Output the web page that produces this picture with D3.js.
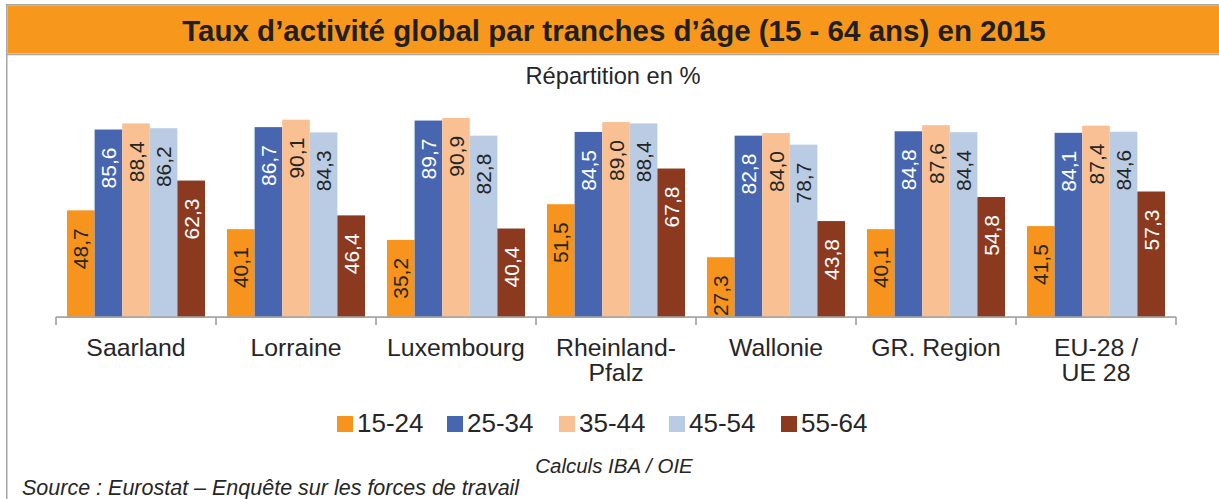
<!DOCTYPE html>
<html>
<head>
<meta charset="utf-8">
<script src="https://cdn.jsdelivr.net/npm/d3@7"></script>
<style>
  body { margin: 0; background: #fff; }
  svg { display: block; font-family: "Liberation Sans", Arial, sans-serif; }
</style>
</head>
<body>
<div id="chart"></div>
<script>
// data
const regions = ["Saarland", "Lorraine", "Luxembourg", "Rheinland-\nPfalz", "Wallonie", "GR. Region", "EU-28 /\nUE 28"];
const ageGroups = ["15-24", "25-34", "35-44", "45-54", "55-64"];
const v15_24 = [48.7, 40.1, 35.2, 51.5, 27.3, 40.1, 41.5];
const v25_34 = [85.6, 86.7, 89.7, 84.5, 82.8, 84.8, 84.1];
const v35_44 = [88.4, 90.1, 90.9, 89.0, 84.0, 87.6, 87.4];
const v45_54 = [86.2, 84.3, 82.8, 88.4, 78.7, 84.4, 84.6];
const v55_64 = [62.3, 46.4, 40.4, 67.8, 43.8, 54.8, 57.3];
const series = [v15_24, v25_34, v35_44, v45_54, v55_64];

const colors = ["#F7941D", "#4766AF", "#F9C193", "#B9CCE4", "#8B391F"];
const labelColors = ["#262626", "#ffffff", "#262626", "#262626", "#ffffff"];

const W = 1219, H = 499;
const svg = d3.select("#chart").append("svg")
    .attr("width", W)
    .attr("height", H);

// frame + header
svg.append("rect")
    .attr("x", 6.75).attr("y", 4.75)
    .attr("width", W + 10).attr("height", H + 10)
    .attr("fill", "none")
    .attr("stroke", "#A6A6A6")
    .attr("stroke-width", 1.5);
svg.append("rect")
    .attr("x", 7.5).attr("y", 5.5)
    .attr("width", W).attr("height", 48)
    .attr("fill", "#F7981D");
svg.append("line")
    .attr("x1", 7).attr("x2", W)
    .attr("y1", 54.5).attr("y2", 54.5)
    .attr("stroke", "#A6A6A6")
    .attr("stroke-width", 1.5);

svg.append("text")
    .attr("x", 614).attr("y", 41)
    .attr("text-anchor", "middle")
    .attr("font-size", "29.5px")
    .attr("font-weight", "bold")
    .attr("fill", "#231F20")
    .text("Taux d’activité global par tranches d’âge (15 - 64 ans) en 2015");

svg.append("text")
    .attr("x", 613).attr("y", 84)
    .attr("text-anchor", "middle")
    .attr("font-size", "23.7px")
    .attr("fill", "#262626")
    .text("Répartition en %");

// scales
const x0 = d3.scaleBand()
    .domain(regions)
    .range([56, 1176])
    .padding(0);
const x1 = d3.scaleBand()
    .domain(ageGroups)
    .range([11, x0.bandwidth() - 11])
    .padding(0);
const y = d3.scaleLinear()
    .domain([0, 100])
    .range([317, 98]);

// bars
const g = svg.append("g");
ageGroups.forEach(function(a, si) {
  const sg = g.append("g");
  sg.selectAll("rect")
    .data(series[si])
    .enter()
    .append("rect")
      .attr("x", (d, i) => x0(regions[i]) + x1(a))
      .attr("y", d => y(d))
      .attr("width", x1.bandwidth())
      .attr("height", d => y(0) - y(d))
      .attr("fill", colors[si]);

  sg.selectAll("text")
    .data(series[si])
    .enter()
    .append("text")
      .attr("transform", (d, i) => `translate(${x0(regions[i]) + x1(a) + x1.bandwidth() / 2}, ${y(d) + 18}) rotate(-90)`)
      .attr("text-anchor", "end")
      .attr("dy", "0.36em")
      .attr("font-size", "21px")
      .attr("fill", labelColors[si])
      .text(d => d.toFixed(1).replace(".", ","));
});

// x axis
const axis = svg.append("g")
    .attr("transform", `translate(0, ${y(0)})`);
axis.append("line")
    .attr("x1", x0.range()[0]).attr("x2", x0.range()[1])
    .attr("stroke", "#A6A6A6")
    .attr("stroke-width", 1.75);
const edges = regions.map(r => x0(r)).concat([x0.range()[1]]);
axis.selectAll(".tick")
    .data(edges)
    .enter()
    .append("line")
      .attr("x1", d => d).attr("x2", d => d)
      .attr("y1", 0).attr("y2", 8)
      .attr("stroke", "#A6A6A6")
      .attr("stroke-width", 1.75);

const cat = svg.append("g");
regions.forEach(function(r) {
  const t = cat.append("text")
      .attr("x", x0(r) + x0.bandwidth() / 2)
      .attr("y", 356)
      .attr("text-anchor", "middle")
      .attr("font-size", "24.8px")
      .attr("fill", "#262626");
  r.split("\n").forEach(function(line, li) {
    t.append("tspan")
      .attr("x", x0(r) + x0.bandwidth() / 2)
      .attr("dy", li === 0 ? 0 : 25)
      .text(line);
  });
});

// legend
const legendX = [337, 447, 559, 669, 781];
const legend = svg.append("g");
ageGroups.forEach(function(a, i) {
  legend.append("rect")
    .attr("x", legendX[i]).attr("y", 416)
    .attr("width", 16).attr("height", 16)
    .attr("fill", colors[i]);
  legend.append("text")
    .attr("x", legendX[i] + 20).attr("y", 432)
    .attr("font-size", "26px")
    .attr("fill", "#262626")
    .text(a);
});

// notes
svg.append("text")
    .attr("x", 614).attr("y", 473)
    .attr("text-anchor", "middle")
    .attr("font-size", "20.5px")
    .attr("font-style", "italic")
    .attr("fill", "#262626")
    .text("Calculs IBA / OIE");
svg.append("text")
    .attr("x", 22).attr("y", 495)
    .attr("font-size", "21.5px")
    .attr("font-style", "italic")
    .attr("fill", "#262626")
    .text("Source : Eurostat – Enquête sur les forces de travail");
</script>
</body>
</html>
